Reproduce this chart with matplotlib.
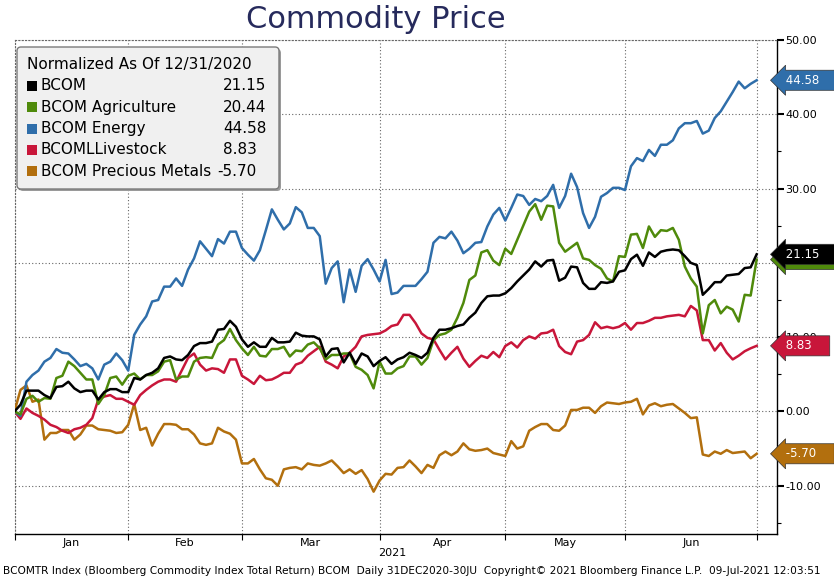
import matplotlib
matplotlib.use("Agg")
import matplotlib.pyplot as plt
from matplotlib.patches import FancyBboxPatch, Rectangle
from matplotlib.transforms import blended_transform_factory
from matplotlib.ticker import MultipleLocator, FixedLocator, FuncFormatter

# Normalized performance since 12/31/2020, one value per trading day (Dec 31 .. Jun 30)
bcom = [0, 0.9, 2.8, 2.8, 2.8, 2.2, 1.8, 3.3, 3.4, 4.0, 3.1, 2.6, 2.8, 2.8, 1.6, 2.6, 3.0, 3.0, 2.6, 2.6,
        4.5, 4.3, 4.9, 5.2, 5.8, 7.2, 7.4, 7.0, 6.9, 7.6, 8.8, 9.2, 9.2, 9.4, 11.0, 11.1, 12.2, 11.4, 9.7,
        8.7, 9.3, 8.7, 8.7, 9.9, 9.3, 9.3, 9.4, 10.6, 10.2, 10.1, 10.1, 9.7, 7.4, 8.4, 8.5, 6.6, 7.9, 6.4,
        7.8, 7.4, 6.1, 6.8, 7.3, 6.4, 7.0, 7.3, 7.9, 7.6, 7.2, 7.9, 9.9, 11.0, 11.0, 11.2, 11.5, 11.7, 12.6,
        13.3, 14.6, 15.5, 15.6, 15.6, 15.9, 16.6, 17.5, 18.3, 19.1, 20.2, 19.5, 20.3, 20.4, 17.6, 18.0,
        19.5, 19.4, 17.3, 16.5, 16.5, 17.4, 17.3, 17.5, 18.8, 19.0, 20.5, 21.1, 19.6, 21.4, 20.8, 21.5,
        21.7, 21.8, 21.7, 20.9, 20.0, 19.7, 15.7, 16.5, 17.4, 17.4, 18.3, 18.4, 18.5, 19.3, 19.4, 21.15]
agri = [0, -0.4, 1.7, 2.1, 1.3, 1.8, 1.7, 4.5, 4.8, 6.7, 6.1, 5.2, 4.3, 4.3, 1.0, 2.2, 4.5, 4.7, 3.6, 4.8,
        5.1, 4.3, 4.9, 4.9, 5.4, 6.7, 6.9, 4.3, 4.7, 4.7, 6.7, 7.2, 7.3, 7.2, 9.0, 9.6, 11.1, 9.6, 8.5,
        7.6, 8.7, 7.5, 7.4, 8.4, 8.4, 8.7, 7.4, 8.2, 8.1, 9.0, 9.3, 8.5, 7.0, 7.6, 7.6, 7.8, 7.8, 6.0,
        5.6, 4.9, 3.1, 6.7, 5.1, 5.1, 5.8, 6.1, 7.4, 7.4, 6.3, 7.2, 9.6, 10.3, 10.5, 11.0, 12.6, 14.6,
        17.7, 18.3, 21.4, 21.7, 20.3, 19.7, 21.9, 21.2, 23.1, 25.0, 26.9, 27.9, 25.8, 27.7, 27.6, 22.7,
        21.5, 22.1, 22.7, 20.6, 20.4, 19.7, 19.2, 17.9, 17.5, 20.9, 20.8, 23.8, 23.9, 22.0, 24.9, 23.5,
        24.4, 24.3, 24.7, 23.1, 19.5, 17.9, 16.8, 10.5, 14.3, 15.0, 13.2, 14.1, 13.7, 12.1, 15.7, 15.6,
        20.44]
energy = [0, -0.6, 4.0, 4.9, 5.5, 6.7, 7.2, 8.4, 7.9, 7.8, 7.0, 6.1, 6.4, 5.8, 4.3, 6.3, 6.7, 7.8, 6.9,
          5.5, 10.3, 11.7, 12.8, 14.8, 15.0, 16.8, 16.8, 17.9, 16.9, 19.1, 20.6, 22.9, 21.9, 20.9, 23.2,
          22.6, 24.2, 24.2, 22.0, 21.1, 20.3, 21.7, 24.4, 27.2, 25.8, 24.5, 25.3, 27.5, 26.8, 24.7, 24.7,
          23.6, 17.2, 19.3, 20.2, 14.7, 19.1, 16.1, 19.6, 20.5, 19.1, 17.5, 20.4, 15.8, 16.0, 16.9, 16.9,
          16.9, 17.8, 18.8, 22.7, 23.5, 23.3, 24.2, 23.0, 21.3, 21.9, 22.7, 22.8, 24.9, 26.5, 27.4, 25.7,
          27.4, 29.2, 29.0, 27.8, 28.6, 28.3, 29.0, 30.5, 27.4, 29.0, 32.0, 30.2, 26.7, 24.7, 26.2, 28.9,
          29.4, 30.1, 30.1, 29.8, 33.0, 34.1, 33.7, 35.2, 34.4, 35.9, 35.9, 36.5, 38.1, 38.8, 38.8, 39.1,
          37.4, 37.8, 39.5, 40.4, 41.7, 43.0, 44.4, 43.5, 44.1, 44.58]
livestock = [0, -1.0, 0.4, -0.2, -0.6, -1.1, -1.8, -2.1, -2.6, -2.9, -2.4, -2.2, -1.8, -0.9, 1.6, 2.0,
             2.2, 1.7, 1.7, 1.3, 0.9, 2.2, 2.9, 3.5, 4.0, 4.3, 4.3, 4.0, 5.6, 7.2, 7.8, 6.3, 5.5, 5.8,
             5.7, 5.2, 7.0, 7.0, 4.8, 4.3, 3.7, 4.8, 4.2, 4.3, 4.7, 5.2, 5.2, 6.3, 6.6, 7.5, 8.1, 8.7,
             6.7, 6.3, 5.8, 7.4, 7.9, 8.7, 10.1, 10.3, 10.4, 10.5, 10.9, 11.5, 11.7, 13.0, 13.0, 11.9,
             10.5, 9.9, 9.7, 8.3, 7.0, 7.9, 8.7, 7.1, 6.0, 6.8, 7.5, 7.2, 8.0, 7.3, 8.8, 9.3, 8.6, 9.6,
             10.1, 9.8, 10.5, 10.6, 11.0, 8.8, 8.0, 7.7, 9.4, 9.6, 10.3, 12.0, 11.2, 11.4, 11.2, 11.4,
             11.9, 11.0, 11.9, 11.9, 12.2, 12.6, 12.6, 12.8, 12.9, 13.0, 12.8, 14.2, 13.6, 9.6, 9.6, 8.2,
             9.2, 7.9, 7.0, 7.5, 8.1, 8.5, 8.83]
metals = [0, 2.9, 3.5, 1.3, 1.6, -3.8, -2.9, -2.9, -2.5, -2.5, -3.8, -3.1, -1.9, -1.9, -2.4, -2.5, -2.6,
          -2.9, -2.8, -1.8, 1.0, -2.5, -2.2, -4.6, -3.0, -1.7, -1.7, -1.8, -2.4, -2.4, -3.1, -4.3, -4.5,
          -4.3, -2.2, -2.7, -3.0, -3.8, -7.0, -7.0, -6.4, -7.8, -9.0, -9.2, -10.0, -7.8, -7.6, -7.5, -7.8,
          -7.0, -7.2, -7.3, -7.0, -6.6, -7.4, -8.3, -7.8, -8.4, -7.9, -9.1, -10.8, -9.3, -8.4, -8.5, -7.6,
          -7.5, -6.6, -7.4, -8.3, -7.2, -7.6, -5.9, -5.4, -5.9, -5.4, -4.3, -5.1, -5.3, -5.2, -5.0, -5.6,
          -5.8, -6.0, -4.0, -5.0, -4.7, -2.6, -2.1, -1.7, -1.7, -2.5, -2.6, -1.9, 0.2, 0.2, 0.5, 0.5, -0.2,
          0.7, 1.2, 1.1, 1.0, 1.2, 1.3, 1.7, -0.4, 0.8, 1.1, 0.7, 0.9, 1.0, 0.4, -0.2, -0.9, -0.8, -5.8,
          -6.0, -5.4, -5.7, -5.2, -5.6, -5.5, -5.4, -6.3, -5.70]

names = ["BCOM", "BCOM Agriculture", "BCOM Energy", "BCOMLLivestock", "BCOM Precious Metals"]
series = [bcom, agri, energy, livestock, metals]
colors = ["#000000", "#4f8a0b", "#2f6eaa", "#c8163a", "#b26f0e"]
last_values = ["21.15", "20.44", "44.58", "8.83", "-5.70"]

# trading-day index of each month end (Dec 31 = 0)
month_ends = [0, 19, 38, 61, 82, 102, 124]
months = ["Jan", "Feb", "Mar", "Apr", "May", "Jun"]

fig = plt.figure(figsize=(8.34, 5.79), dpi=100)
ax = fig.add_axes([14.5 / 834, 45 / 579, 762.5 / 834, 494 / 579])

# draw so that BCOM ends up on top
for vals, col in list(zip(series, colors))[::-1]:
    ax.plot(range(len(vals)), vals, color=col, lw=1.8, solid_joinstyle="round", zorder=3)

ax.set_xlim(0, 127.4)
ax.set_ylim(-16.5, 50)

# y axis on the right
ax.yaxis.tick_right()
ax.yaxis.set_major_locator(MultipleLocator(10))
ax.yaxis.set_minor_locator(MultipleLocator(5))
ax.yaxis.set_major_formatter(FuncFormatter(lambda v, p: "%.2f" % v))
ax.tick_params(axis="y", which="major", direction="out", length=5, width=1.5, labelsize=8, pad=1)
ax.tick_params(axis="y", which="minor", direction="out", length=3, width=0.8)

# x axis: month boundaries as ticks, month names in the middle
ax.xaxis.set_major_locator(FixedLocator(month_ends))
ax.xaxis.set_major_formatter(FuncFormatter(lambda v, p: ""))
mids = [(month_ends[i] + month_ends[i + 1]) / 2 for i in range(len(months))]
ax.xaxis.set_minor_locator(FixedLocator(mids))
ax.set_xticklabels(months, minor=True)
ax.tick_params(axis="x", which="major", direction="out", length=4, width=0.8)
ax.tick_params(axis="x", which="minor", length=0, labelsize=8, pad=3)

ax.grid(True, which="major", linestyle=(0, (1, 2)), color="#666666", lw=0.8, zorder=1)

for side in ["top", "left"]:
    ax.spines[side].set_linestyle((0, (1, 2)))
    ax.spines[side].set_color("#666666")
    ax.spines[side].set_linewidth(0.8)
ax.spines["right"].set_linewidth(1.0)
ax.spines["bottom"].set_linewidth(1.0)

# last value tags on the right axis
tr = blended_transform_factory(ax.transAxes, ax.transData)
tag_order = [1, 0, 2, 3, 4]
for k in tag_order:
    ax.text(1.006, float(last_values[k]), " " + last_values[k] + "    ", transform=tr,
            ha="left", va="center", fontsize=8.5, color="white", clip_on=False, zorder=5,
            bbox=dict(boxstyle="larrow,pad=0.3", fc=colors[k], ec="#333333", lw=0.5))

# legend box
px = fig.dpi_scale_trans
shadow = FancyBboxPatch((0.19, 3.88), 2.62, 1.42, boxstyle="round,pad=0,rounding_size=0.04",
                        transform=px, fc="#9a9a9a", ec="none", zorder=6)
box = FancyBboxPatch((0.17, 3.90), 2.62, 1.42, boxstyle="round,pad=0,rounding_size=0.04",
                     transform=px, fc="#f0f0f0", ec="#7a7a7a", lw=1.0, zorder=7)
fig.patches.extend([shadow, box])
fig.text(0.27, (579 - 64) / 100, "Normalized As Of 12/31/2020", transform=px,
         fontsize=11, va="center", ha="left", zorder=8)
for k in range(len(names)):
    yc = (579 - (86 + 21.3 * k)) / 100
    fig.patches.append(Rectangle((0.27, yc - 0.05), 0.10, 0.10, transform=px,
                                 fc=colors[k], ec="none", zorder=8))
    fig.text(0.41, yc, names[k], transform=px, fontsize=11, va="center", ha="left", zorder=8)
    xv = 2.17 if last_values[k].startswith("-") else 2.23
    fig.text(xv, yc, last_values[k], transform=px, fontsize=11, va="center", ha="left", zorder=8)

# title and footer
fig.text(376 / 834, 1 - 19 / 579, "Commodity Price", ha="center", va="center",
         fontsize=22, color="#262a5c", family=["Liberation Sans Narrow", "DejaVu Sans"])
fig.text(392 / 834, 1 - 553 / 579, "2021", ha="center", va="center", fontsize=8)
fig.text(3 / 834, 1 - 571 / 579,
         "BCOMTR Index (Bloomberg Commodity Index Total Return) BCOM  Daily 31DEC2020-30JU  "
         "Copyright\u00a9 2021 Bloomberg Finance L.P.  09-Jul-2021 12:03:51",
         ha="left", va="center", fontsize=7.6, family=["Liberation Sans Narrow", "DejaVu Sans"])

fig.savefig("out.png", dpi=100, facecolor="white")
